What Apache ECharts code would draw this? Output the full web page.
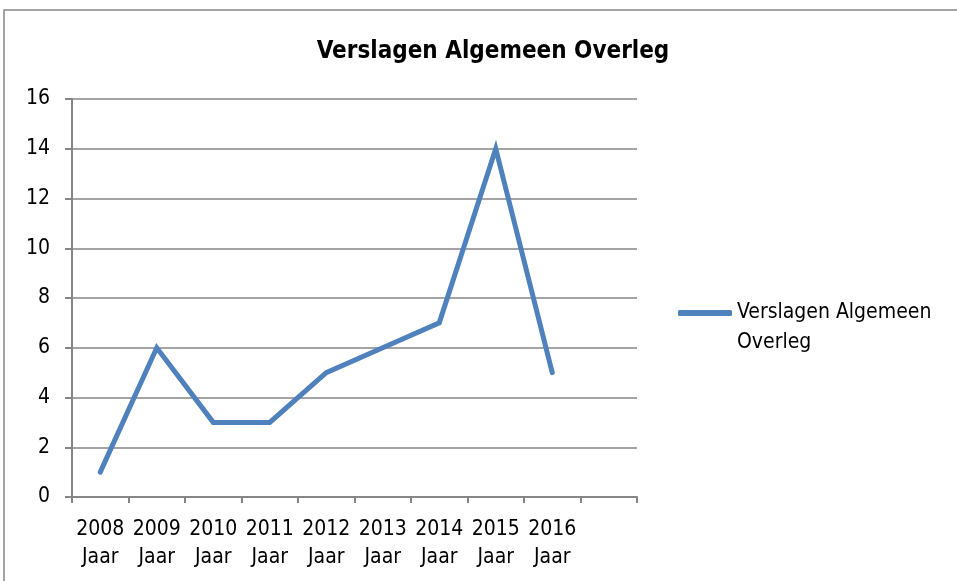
<!DOCTYPE html>
<html><head><meta charset="utf-8">
<script src="https://cdn.jsdelivr.net/npm/echarts@6/dist/echarts.min.js"></script>
<style>html,body{margin:0;padding:0;background:#fff}#c{width:957px;height:581px}</style>
</head><body><div id="c"></div>
<script>
const years = ['2008','2009','2010','2011','2012','2013','2014','2015','2016',''];
const yearSuffix = 'Jaar';
const values = [1, 6, 3, 3, 5, 6, 7, 14, 5, null];
const seriesName = 'Verslagen Algemeen Overleg';
const titleText = 'Verslagen Algemeen Overleg';
const yTicks = {min: 0, max: 16, interval: 2};

const font = '"Liberation Sans Narrow", "DejaVu Sans Condensed", "Liberation Sans", sans-serif';
const chart = echarts.init(document.getElementById('c'), null, {renderer: 'canvas'});
chart.setOption({
  animation: false,
  backgroundColor: '#fff',
  graphic: [{type: 'rect', shape: {x: 4, y: 10, width: 1000, height: 1000}, style: {fill: 'none', stroke: '#868686', lineWidth: 1.5}, silent: true}],
  title: {text: titleText, left: 488, top: 35, textAlign: 'center',
    textStyle: {fontFamily: font, fontWeight: 'bold', fontSize: 24, color: '#000'}},
  legend: {show: true, left: 678, top: 268, padding: 0, orient: 'vertical', itemWidth: 54, itemHeight: 6, itemGap: 0,
    icon: 'roundRect',
    formatter: () => '\nVerslagen Algemeen\nOverleg',
    textStyle: {fontFamily: font, fontSize: 21, color: '#000', lineHeight: 30}},
  grid: {left: 72, right: 320, top: 99, bottom: 84, containLabel: false},
  xAxis: {type: 'category', data: years, boundaryGap: true,
    axisLine: {lineStyle: {color: '#868686', width: 2}},
    axisTick: {show: true, alignWithLabel: false, length: 6, lineStyle: {color: '#868686', width: 2}},
    axisLabel: {interval: 0, margin: 19, fontFamily: font, fontSize: 21, color: '#000', lineHeight: 28,
      formatter: v => v ? v + '\n' + yearSuffix : ''}},
  yAxis: {type: 'value', min: yTicks.min, max: yTicks.max, interval: yTicks.interval,
    axisLine: {show: true, lineStyle: {color: '#868686', width: 2}},
    axisTick: {show: true, length: 7, lineStyle: {color: '#868686', width: 2}},
    splitLine: {lineStyle: {color: '#868686', width: 1.5}},
    axisLabel: {margin: 22, fontFamily: font, fontSize: 21, color: '#000'}},
  series: [{name: seriesName, type: 'line', data: values, symbol: 'none',
    lineStyle: {color: '#4F81BD', width: 5, cap: 'round', join: 'miter'},
    itemStyle: {color: '#4F81BD'}}]
});
</script></body></html>
